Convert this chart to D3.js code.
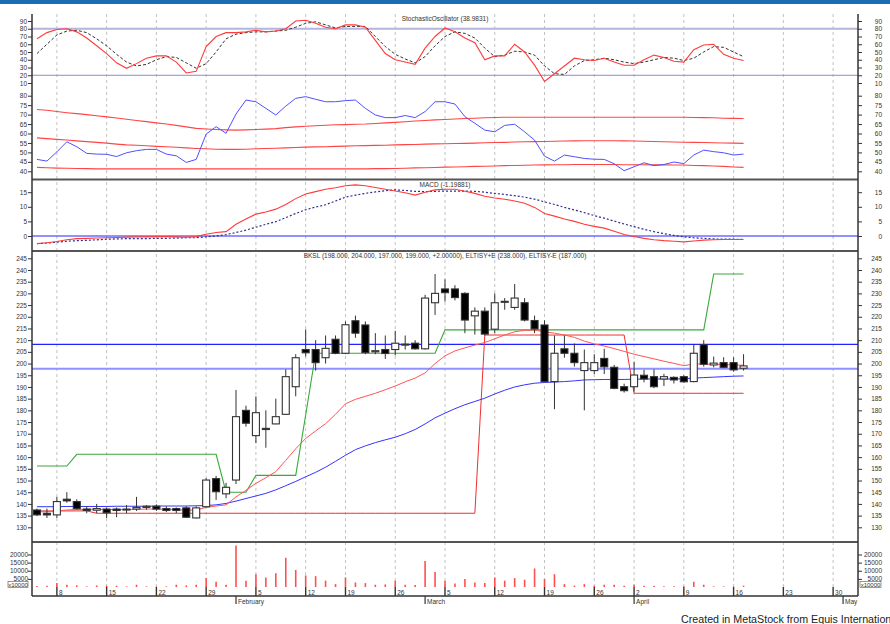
<!DOCTYPE html>
<html lang="en">
<head>
<meta charset="UTF-8">
<title>BKSL - MetaStock</title>
<script src="https://d3js.org/d3.v7.min.js"></script>
<style>
  body { margin: 0; background: #fff; font-family: Arial, "Liberation Sans", sans-serif; }
  svg { display: block; }
</style>
</head>
<body>
<svg width="890" height="624"></svg>
<script>
// --- date axis (trading day index -> label)
const dayIdx = [2, 7, 12, 17, 22, 27, 31, 36, 41, 46, 51, 56, 60, 65, 70, 75, 80];
const dayLabels = ["8", "15", "22", "29", "5", "12", "19", "26", "5", "12", "19", "26", "2", "9", "16", "23", "30"];
const monthIdx = [20, 39, 60, 81];
const monthLabels = ["February", "March", "April", "May"];

// --- price candles
const openP = [137.4,136,135.3,142,141,137.8,137.3,137.8,137.8,137.5,
  137.8,138.5,139,138,138,138.3,134,138.8,150.8,144.3,
  150.2,180,169.2,172.3,174.2,178.3,190.1,206,206,202.5,
  210.4,204.4,218.3,216.5,205,206,206,208,208.7,206.3,
  226,231.9,231.9,230,220.4,222.4,214.7,226.3,224,226,
  218.4,216.5,192.3,206.3,204.4,197,197,202.2,198.4,190.1,
  190.1,195,194.4,193.4,194.1,194.4,192.3,208,199.4,200.4,
  200.4,198];
const highP = [138,138,143,145,142,139,140,138.5,138.5,139.5,
  143,139.5,139.8,139,138.5,139,139,151,152,149,
  188.7,182,186,180,185,197.5,204,214.6,210,212,
  212,218,220.5,218,213,212,214,212,210,229.4,
  238.3,236,233.5,230.5,224,224,230,228,234,228,
  220.5,218.5,212,212,208.6,206,204,206.3,199.4,191.4,
  200.8,197.3,197.5,195.6,194.5,195,208.4,210,203,202.7,
  202.7,204];
const lowP = [134.8,134,134,140.5,137.5,136,136,134,134.3,136,
  137,137.5,137,136.5,136,134,133.8,138.5,141.7,142.4,
  148.5,173,166,164,174,178,186,203,197,200,
  204,204,211,204,204,202,203.5,206,206,206,
  220.8,226.5,227,213,212.4,212,213,223,223,218,
  213,192,180.5,202.5,198.7,180,195.5,195.5,189,187.6,
  188,192,189.5,190.4,191.5,191.8,192,198.7,198.4,198,
  196.5,197];
const closeP = [135.3,135.3,141,141.3,138,137.2,138,136.2,137.2,137.8,
  138.5,139,137.8,137.2,137.2,134.3,138.3,150.2,145.2,147.1,
  177.3,174.5,179,171.8,177.3,194.4,202.5,204.6,200.4,206.5,
  204.4,216.6,213,204.7,205.5,204.3,208.7,208.3,206.3,228,
  230,230.3,228.2,218.6,222.4,212.6,226,226.6,228,218.6,
  214.8,192.3,204.4,204.4,200.4,200.4,200.4,198.6,189.4,188.4,
  195.1,193.4,190.1,194.4,193,192.2,204.4,199.7,200.2,198.4,
  197.3,199];

// --- price overlays
const emaRed = [136.6,136.7,137,137.4,137.6,137.7,137.7,137.6,137.6,137.6,
  137.7,137.8,137.8,137.7,137.6,137.3,137.4,138.5,139.1,139.6,
  143,145.8,148.8,151.2,153.8,158.6,163.6,168,171.2,174.3,
  178.3,182.8,184.7,186,187.3,188.8,190.4,192.2,193.8,196,
  200,203.3,205.4,206.7,207.9,209,210.6,212.2,213.6,214.2,
  214.3,213.6,213,212.2,211.2,209.6,208.4,207.5,206.4,205.2,
  204,203,202,201,200.1,199.1,199.8,199.8,199.7,199.6,
  199.4,199.3];
const maBlue = [138.8,138.8,138.8,138.9,138.9,138.9,138.9,138.9,139,139,
  139,139,139.1,139.1,139.1,139.1,139.2,139.3,139.6,140.2,
  141.2,142.3,143.4,144.5,146,147.8,149.6,151.6,153.5,155.7,
  158.2,160.8,163.2,164.8,166.2,167.4,168.5,170,171.8,174.2,
  176.8,178.8,180.7,182.4,183.8,185.2,187,188.6,190,190.9,
  191.6,191.9,192.1,192.3,192.6,193,193.1,193.2,193.2,193.2,
  193.3,193.4,193.4,193.4,193.4,193.5,193.8,194,194.2,194.4,
  194.6,194.7];
const eltisyUp = [156.2,156.2,156.2,156.2,161.2,161.2,161.2,161.2,161.2,161.2,
  161.2,161.2,161.2,161.2,161.2,161.2,161.2,161.2,161.2,145,
  145,145,152.2,152.2,152.2,152.2,152.2,178,204.4,204.4,
  204.4,204.4,204.4,204.4,204.4,204.4,204.4,204.4,204.4,204.4,
  204.4,214.4,214.4,214.4,214.4,214.4,214.4,214.4,214.4,214.4,
  214.4,214.4,214.4,214.4,214.4,214.4,214.4,214.4,214.4,214.4,
  214.4,214.4,214.4,214.4,214.4,214.4,214.4,214.4,238.3,238.3,
  238.3,238.3];
const eltisyDn = [137,137,137,137,137,137,136,136,136,136,
  136,136,136,136,136,136,136,136,136,136,
  136,136,136,136,136,136,136,136,136,136,
  136,136,136,136,136,136,136,136,136,136,
  136,136,136,136,136,212.2,212.2,212.2,212.2,212.2,
  212.2,212.2,212.2,212.2,212.2,212.2,212.2,212.2,212.2,212.2,
  187.3,187.3,187.3,187.3,187.3,187.3,187.3,187.3,187.3,187.3,
  187.3,187.3];
const priceLevels = [208.2, 197.8];

// --- stochastic oscillator
const stochK = [67,75,79,80,76,68,58,48,36,29,
  35,42,45,45,37,23,25,57,70,75,
  75,76,78,76,77,80,90,91,87,82,
  80,85,85,82,65,48,40,37,34,55,
  70,81,76,68,62,40,45,45,60,50,
  33,12,22,32,42,40,39,42,37,33,
  33,40,46,43,38,37,53,59,60,47,
  42,39];
const stochD = [48,60,72,77,78,75,67,58,47,37,
  32,34,40,44,43,36,29,35,50,67,
  73,75,76,76,77,78,82,87,89,85,
  81,83,83,83,70,57,47,41,36,44,
  58,70,76,74,68,55,44,46,51,50,
  46,32,22,21,32,39,40,42,40,37,
  35,37,40,43,42,39,42,50,57,56,
  50,44];
const stochLevels = [80, 20];

// --- second oscillator with bands (same window)
const oscBlue = [46.3,45.4,50.3,55.6,53,49.5,49.1,49,47.8,49.8,
  50.9,51.6,51.6,49.1,48.2,44.7,46.3,59.7,63.6,60.1,
  70.3,77.7,76.8,73.3,69.8,74.5,78.6,79.5,78.1,76.8,
  76.8,77.4,77.7,73.3,69.8,68.4,68.4,69.5,68.4,71.6,
  76.8,76.8,75.6,68.9,65.4,61.8,60.9,64.3,64.9,60.9,
  56.5,48,45.4,48.6,47.7,46.8,46.4,46.3,44,40.3,
  42.4,44.5,43,43.6,44.9,44.1,48.6,51.2,50.4,49.8,
  48.6,49.1];
const bandUp = [72.7,72.3,71.6,71,70.5,70,69.4,68.8,68.2,67.5,
  66.9,66.3,65.6,65,64.3,63.5,62.7,62.4,62.1,61.9,
  61.8,61.9,62.1,62.3,62.6,63.1,63.5,63.8,64.1,64.4,
  64.6,64.7,64.9,65,65.3,65.6,65.9,66.2,66.6,66.9,
  67.2,67.4,67.7,67.9,68.1,68.3,68.5,68.6,68.6,68.6,
  68.6,68.6,68.6,68.6,68.6,68.6,68.6,68.6,68.6,68.6,
  68.6,68.6,68.6,68.6,68.6,68.6,68.5,68.4,68.3,68.1,
  68,67.9];
const bandMid = [57.7,57.3,56.9,56.6,56.1,55.7,55.3,54.9,54.4,54,
  53.8,53.5,53.2,53,52.7,52.4,52.1,51.9,51.7,51.6,
  51.6,51.7,51.9,52.1,52.2,52.4,52.6,52.8,52.9,53,
  53.2,53.3,53.5,53.6,53.7,53.8,54,54.1,54.2,54.4,
  54.5,54.6,54.7,54.8,54.9,55.1,55.2,55.3,55.5,55.6,
  55.7,55.8,55.9,56,56.1,56.2,56.2,56.2,56.2,56.1,
  56,55.9,55.8,55.6,55.5,55.4,55.3,55.2,55.1,55,
  54.9,54.8];
const bandLow = [42.1,41.9,41.7,41.6,41.5,41.4,41.3,41.3,41.3,41.3,
  41.3,41.3,41.3,41.3,41.3,41.3,41.3,41.3,41.3,41.3,
  41.3,41.3,41.3,41.3,41.3,41.3,41.3,41.3,41.3,41.3,
  41.3,41.3,41.3,41.3,41.4,41.4,41.5,41.6,41.8,41.9,
  42,42.2,42.3,42.4,42.6,42.7,42.8,43,43.1,43.2,
  43.3,43.4,43.5,43.5,43.6,43.6,43.6,43.6,43.6,43.5,
  43.5,43.5,43.4,43.4,43.3,43.3,43.1,43,42.8,42.6,
  42.3,42.1];

// --- MACD
const macdLine = [-2.6,-2.3,-1.9,-1.3,-0.9,-0.8,-0.7,-0.6,-0.5,-0.4,
  -0.3,-0.3,-0.2,-0.2,-0.3,-0.4,-0.2,0.6,1.2,1.5,
  4,5.8,7.5,8.2,9.2,10.8,12.8,14.4,15.2,16,
  16.5,17.2,17.5,17.2,16.6,16,15.4,14.8,14,15,
  15.8,16,16,15.3,14.6,13.6,13,12.6,12,11.2,
  9.8,7.7,6.8,5.8,5,4,3.3,2.7,1.6,0.5,
  -0.2,-0.8,-1.3,-1.6,-1.8,-2,-1.7,-1.4,-1.3,-1.2,
  -1.2,-1.2];
const macdSignal = [-2.6,-2.4,-2.1,-1.8,-1.6,-1.5,-1.3,-1.1,-1,-0.9,
  -0.9,-0.9,-0.8,-0.8,-0.7,-0.6,-0.6,-0.3,0,0.5,
  1.2,2,3,4,4.9,6.3,7.7,9,9.9,10.7,
  12,13.3,14,14.6,15.1,15.5,15.8,15.6,15.3,15.2,
  15.3,15.4,15.4,15.4,15.3,15,14.6,14.2,13.8,13.3,
  12.6,11.7,10.8,9.8,8.9,8,7,6.1,5.1,4.1,
  3.2,2.3,1.5,0.8,0.2,-0.3,-0.6,-0.8,-1,-1.1,
  -1.1,-1.2];

// --- volume
const volume = [600,800,2400,1400,1000,400,1000,800,800,400,
  1400,400,200,400,1400,1000,1400,5500,3200,1400,
  25600,3900,7900,5900,8500,18000,10500,7100,6700,3900,
  1800,5900,2800,2400,1400,1600,3900,1400,1200,16000,
  9300,3900,2200,4900,2800,2400,5900,3900,5500,4500,
  11400,4900,7900,1800,800,1800,800,1400,1400,800,
  1400,800,800,400,400,400,3200,1400,400,400,
  200,800];

// --- axis tick values
const stochTicks = [90, 80, 70, 60, 50, 40, 30, 20, 10];
const oscTicks = [80, 75, 70, 65, 60, 55, 50, 45, 40];
const macdTicks = [15, 10, 5, 0];
const priceTicks = [245, 240, 235, 230, 225, 220, 215, 210, 205, 200, 195, 190, 185, 180, 175, 170, 165, 160, 155, 150, 145, 140, 135, 130];
const volTicks = [20000, 15000, 10000, 5000];

const titleStoch = "StochasticOscillator (38.9831)";
const titleMacd = "MACD (-1.19881)";
const titlePrice = "BKSL (198.000, 204.000, 197.000, 199.000, +2.00000), ELTISY+E (238.000), ELTISY-E (187.000)";

// layout
const left = 32, right = 858;
const x = d3.scaleLinear().domain([-0.5, 82.5]).range([left, right]);
const yStoch = d3.scaleLinear().domain([10, 90]).range([83, 21]);
const yOsc = d3.scaleLinear().domain([40, 80]).range([171.3, 95.7]);
const yMacd = d3.scaleLinear().domain([0, 15]).range([236, 192.2]);
const yPrice = d3.scaleLinear().domain([130, 245]).range([527.3, 258.3]);
const yVol = d3.scaleLinear().domain([0, 20000]).range([587, 554.5]);

const svg = d3.select("svg");

// top blue strip
svg.append("rect").attr("x", 0).attr("y", 0).attr("width", 890).attr("height", 4).attr("fill", "#1a6db3");

// vertical dashed grid
svg.append("g").selectAll("line").data(dayIdx).join("line")
  .attr("x1", d => x(d)).attr("x2", d => x(d))
  .attr("y1", 14).attr("y2", 588)
  .attr("stroke", "#c2c2c2").attr("stroke-dasharray", "3,3");

// panel separators
svg.append("g").selectAll("line").data([179.5, 251, 542]).join("line")
  .attr("x1", left).attr("x2", right).attr("y1", d => d).attr("y2", d => d)
  .attr("stroke", "#555").attr("stroke-width", 2);

function line(scale) {
  return d3.line().x((d, i) => x(i)).y(d => scale(d));
}

function drawLine(data, scale, color, width, dash) {
  svg.append("path").datum(data)
    .attr("fill", "none")
    .attr("stroke", color)
    .attr("stroke-width", width)
    .attr("stroke-dasharray", dash || null)
    .attr("d", line(scale));
}

function hLine(y, color, width) {
  svg.append("line").attr("x1", left).attr("x2", right).attr("y1", y).attr("y2", y)
    .attr("stroke", color).attr("stroke-width", width);
}

// ---- panel 1: stochastic + oscillator
hLine(yStoch(stochLevels[0]), "#b4b4dc", 2);
hLine(yStoch(stochLevels[1]), "#8c8cc4", 1);
drawLine(bandUp, yOsc, "#ff4545", 1.1);
drawLine(bandMid, yOsc, "#ff4545", 1.1);
drawLine(bandLow, yOsc, "#ff4545", 1.1);
drawLine(oscBlue, yOsc, "#5050ff", 1);
drawLine(stochD, yStoch, "#333", 1, "3,2");
drawLine(stochK, yStoch, "#ff3b3b", 1.1);

// ---- panel 2: MACD
hLine(yMacd(0), "#2323ff", 1);
drawLine(macdSignal, yMacd, "#2e2e90", 1.2, "2,2");
drawLine(macdLine, yMacd, "#ff3b3b", 1.1);

// ---- panel 3: price
hLine(yPrice(priceLevels[0]), "#2222ff", 1.2);
hLine(yPrice(priceLevels[1]), "#9090ff", 2);
drawLine(eltisyDn, yPrice, "#ee3030", 1);
drawLine(eltisyUp, yPrice, "#3aa83a", 1.1);
drawLine(maBlue, yPrice, "#3434ff", 1);
drawLine(emaRed, yPrice, "#ff5555", 1);

const candles = openP.map((o, i) => ({ i, o, h: highP[i], l: lowP[i], c: closeP[i] }));
const cg = svg.append("g");
cg.selectAll("line").data(candles).join("line")
  .attr("x1", d => x(d.i)).attr("x2", d => x(d.i))
  .attr("y1", d => yPrice(d.h)).attr("y2", d => yPrice(d.l))
  .attr("stroke", "#333").attr("stroke-width", 1);
cg.selectAll("rect").data(candles).join("rect")
  .attr("x", d => x(d.i) - 3.5)
  .attr("width", 7)
  .attr("y", d => yPrice(Math.max(d.o, d.c)))
  .attr("height", d => Math.max(1, Math.abs(yPrice(d.o) - yPrice(d.c))))
  .attr("fill", d => d.c >= d.o ? "#fff" : "#000")
  .attr("stroke", "#333").attr("stroke-width", 1.1);

// ---- panel 4: volume
svg.append("g").selectAll("line").data(volume).join("line")
  .attr("x1", (d, i) => x(i)).attr("x2", (d, i) => x(i))
  .attr("y1", yVol(0)).attr("y2", d => yVol(d))
  .attr("stroke", "#ff5050").attr("stroke-width", 1.6);

// ---- y axes on both sides
function yAxes(scale, vals, rightEnd, pad) {
  const fmt = d3.format("d");
  const gl = svg.append("g").attr("transform", `translate(${left},0)`)
    .call(d3.axisLeft(scale).tickValues(vals).tickSize(4).tickPadding(pad).tickFormat(fmt));
  const gr = svg.append("g").attr("transform", `translate(${right},0)`)
    .call(d3.axisRight(scale).tickValues(vals).tickSize(4).tickPadding(1).tickFormat(fmt));
  gr.selectAll("text").attr("text-anchor", "end").attr("x", rightEnd - right);
  [gl, gr].forEach(g => {
    g.select(".domain").remove();
    g.attr("font-size", 6.5).attr("font-family", "Arial, 'Liberation Sans', sans-serif").attr("color", "#333");
  });
}
yAxes(yStoch, stochTicks, 882, 1);
yAxes(yOsc, oscTicks, 882, 1);
yAxes(yMacd, macdTicks, 882, 1);
yAxes(yPrice, priceTicks, 882, 1);
yAxes(yVol, volTicks, 882, 0);

// volume multiplier boxes
[[8, 28], [860, 881]].forEach(([x0, x1]) => {
  svg.append("rect").attr("x", x0).attr("y", 581.5).attr("width", x1 - x0).attr("height", 6)
    .attr("fill", "#fff").attr("stroke", "#555").attr("stroke-width", 0.6);
  svg.append("text").attr("x", (x0 + x1) / 2).attr("y", 586.6).attr("text-anchor", "middle")
    .attr("font-size", 6).attr("fill", "#333").text("x10000");
});

// axis frame lines
[left, right].forEach(xx => {
  svg.append("line").attr("x1", xx).attr("x2", xx).attr("y1", 14).attr("y2", 596)
    .attr("stroke", "#333").attr("stroke-width", 1.5);
});
svg.append("line").attr("x1", left).attr("x2", right).attr("y1", 596).attr("y2", 596)
  .attr("stroke", "#333").attr("stroke-width", 1.5);

// ---- date axis
const dg = svg.append("g").attr("font-size", 6.5).attr("fill", "#333");
dg.selectAll("line.day").data(dayIdx).join("line").attr("class", "day")
  .attr("x1", d => x(d)).attr("x2", d => x(d)).attr("y1", 587).attr("y2", 596)
  .attr("stroke", "#333").attr("stroke-width", 1.4);
dg.selectAll("text.day").data(dayIdx).join("text").attr("class", "day")
  .attr("x", d => x(d) + 2).attr("y", 595)
  .text((d, i) => dayLabels[i]);
dg.selectAll("line.mon").data(monthIdx).join("line").attr("class", "mon")
  .attr("x1", d => x(d)).attr("x2", d => x(d)).attr("y1", 596).attr("y2", 604)
  .attr("stroke", "#333").attr("stroke-width", 1.2);
dg.selectAll("text.mon").data(monthIdx).join("text").attr("class", "mon")
  .attr("x", d => x(d) + 2).attr("y", 603.5)
  .text((d, i) => monthLabels[i]);

// ---- titles
const mid = (left + right) / 2;
[[titleStoch, 21], [titleMacd, 186.5], [titlePrice, 257.5]].forEach(([t, yy]) => {
  svg.append("text").attr("x", mid).attr("y", yy).attr("text-anchor", "middle")
    .attr("font-size", 6.5).attr("fill", "#333").text(t);
});

// footer (runs off the right edge, as in the original export)
svg.append("text").attr("x", 681).attr("y", 623)
  .attr("font-size", 10.7).attr("fill", "#222")
  .text("Created in MetaStock from Equis International");
</script>
</body>
</html>
